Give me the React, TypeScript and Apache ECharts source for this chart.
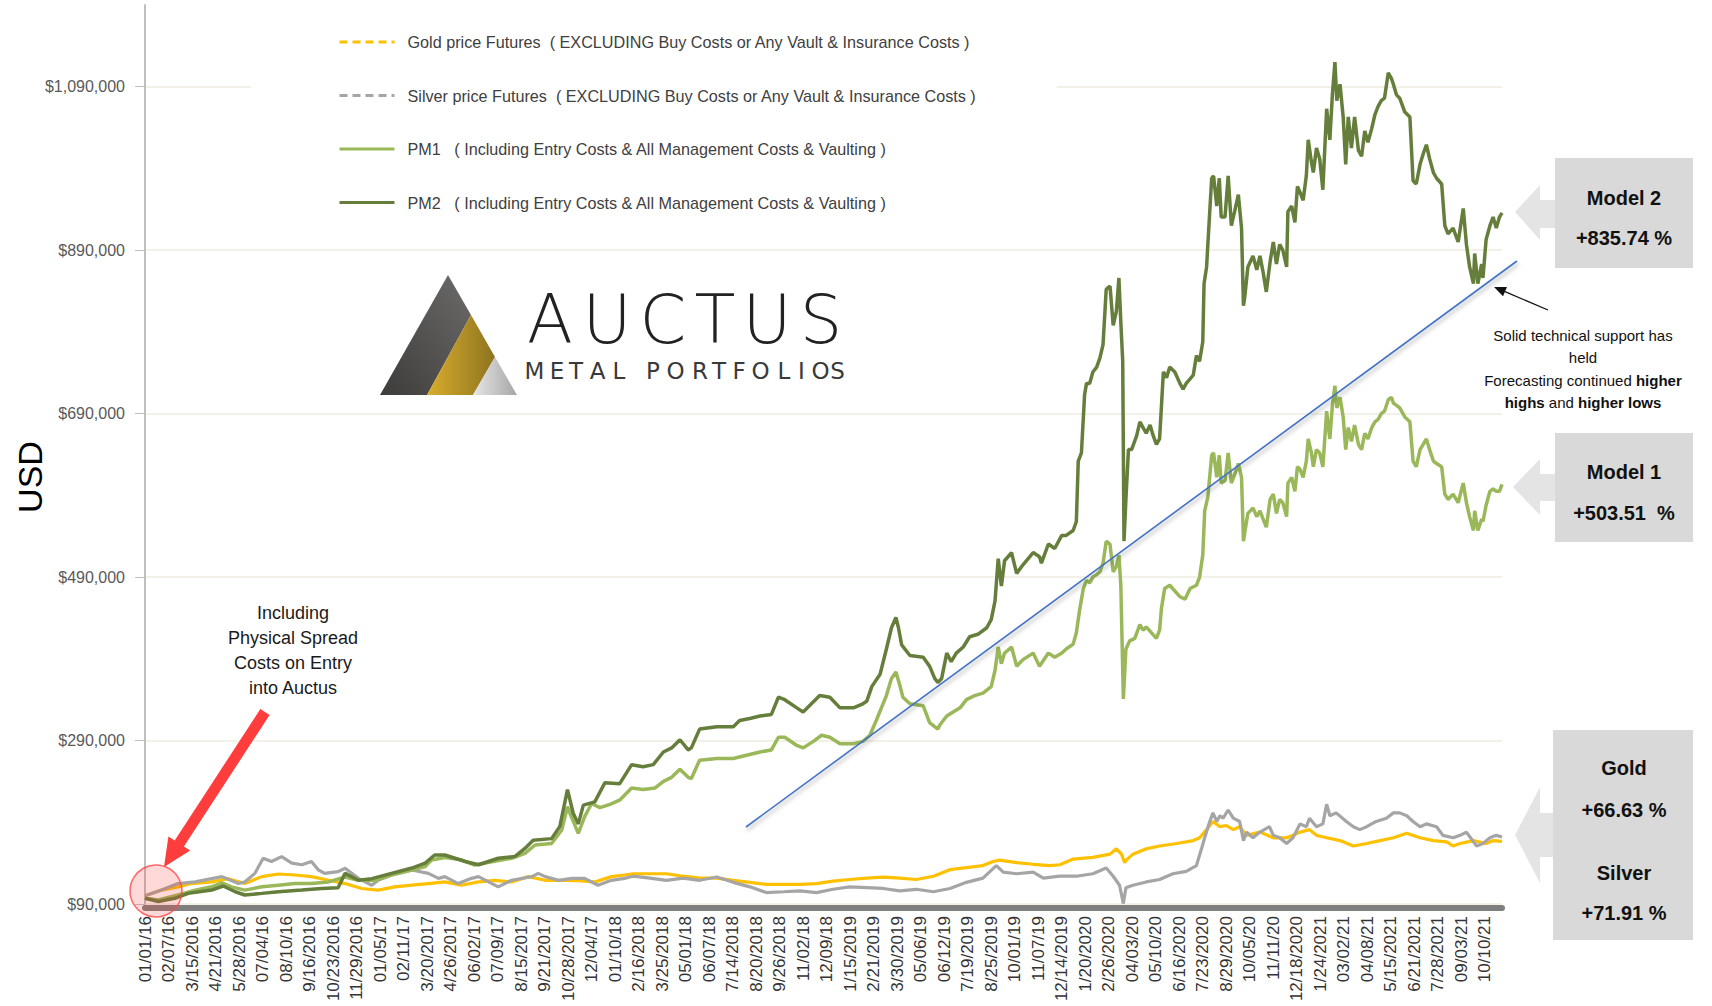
import { useEffect, useRef } from 'react';
import * as echarts from 'echarts';

const FONT = '"Liberation Sans", Arial, sans-serif';

// ---------- DATA ----------
const START_UTC = Date.UTC(2016, 0, 1);
const DAY_COUNT = 2137; // daily categories 2016-01-01 .. 2021-11-06
const LABEL_STEP = 37;

const xTickLabels = ['01/01/16','02/07/16','3/15/2016','4/21/2016','5/28/2016','07/04/16','08/10/16','9/16/2016','10/23/2016','11/29/2016','01/05/17','02/11/17','3/20/2017','4/26/2017','06/02/17','07/09/17','8/15/2017','9/21/2017','10/28/2017','12/04/17','01/10/18','2/16/2018','3/25/2018','05/01/18','06/07/18','7/14/2018','8/20/2018','9/26/2018','11/02/18','12/09/18','1/15/2019','2/21/2019','3/30/2019','05/06/19','06/12/19','7/19/2019','8/25/2019','10/01/19','11/07/19','12/14/2019','1/20/2020','2/26/2020','04/03/20','05/10/20','6/16/2020','7/23/2020','8/29/2020','10/05/20','11/11/20','12/18/2020','1/24/2021','03/02/21','04/08/21','5/15/2021','6/21/2021','7/28/2021','09/03/21','10/10/21'];

const yTickValues = [90000, 290000, 490000, 690000, 890000, 1090000];

const GOLD_NAME = 'Gold price Futures  ( EXCLUDING Buy Costs or Any Vault & Insurance Costs )';
const SILVER_NAME = 'Silver price Futures  ( EXCLUDING Buy Costs or Any Vault & Insurance Costs )';
const PM1_NAME = 'PM1   ( Including Entry Costs & All Management Costs & Vaulting )';
const PM2_NAME = 'PM2   ( Including Entry Costs & All Management Costs & Vaulting )';

// [day index since 01/01/16, USD]
const goldData = [[0,100000],[26,107000],[52,111000],[73,115000],[105,117000],[131,121000],[157,115000],[184,123500],[210,126700],[236,125500],[262,123500],[289,119000],[315,115000],[341,109000],[367,107000],[393,111000],[420,113000],[446,115000],[472,117000],[498,113000],[525,117000],[551,119000],[577,117000],[603,123500],[630,119000],[656,119000],[682,118500],[708,117000],[734,123500],[755,125500],[768,127000],[821,127000],[847,124000],[873,121600],[900,121600],[926,119000],[952,116500],[978,114000],[1005,114000],[1031,114000],[1057,115000],[1083,118000],[1109,120000],[1136,121600],[1162,123000],[1188,121600],[1214,120000],[1241,124000],[1267,132000],[1293,134500],[1319,137000],[1335,142000],[1345,143700],[1372,140700],[1398,138600],[1424,137000],[1440,138000],[1461,145000],[1492,147000],[1519,151000],[1529,157500],[1537,151000],[1542,140500],[1545,144000],[1555,151000],[1576,157500],[1597,161000],[1624,164000],[1650,167600],[1660,171000],[1671,181000],[1681,191000],[1692,184600],[1702,186000],[1713,181000],[1723,184600],[1734,174000],[1755,178000],[1776,171000],[1797,171000],[1807,174000],[1818,178000],[1833,181000],[1844,174000],[1860,171000],[1881,167600],[1902,161000],[1923,164000],[1944,167600],[1965,171000],[1986,176500],[2007,171000],[2028,167600],[2049,166000],[2059,161000],[2070,164000],[2091,167600],[2111,164000],[2122,167600],[2136,166630]];

const silverData = [[0,100000],[26,107000],[52,115000],[79,117000],[121,123500],[147,115000],[157,117000],[173,127500],[186,146000],[199,142000],[215,148000],[231,140000],[247,138000],[262,142000],[273,131600],[283,127500],[304,129600],[315,133700],[336,121400],[357,113000],[367,119000],[388,125500],[420,131600],[446,127500],[462,121400],[472,123500],[493,115000],[514,121400],[525,123500],[556,111000],[577,119000],[609,123500],[619,127500],[630,123500],[651,119000],[672,121400],[692,121400],[713,113000],[734,119000],[755,121400],[768,124000],[795,121600],[821,119000],[847,121600],[873,119000],[900,123000],[926,116500],[952,111000],[978,104000],[1005,105000],[1031,106000],[1057,104000],[1083,108000],[1109,111000],[1136,110000],[1162,109000],[1188,106000],[1214,108000],[1241,105000],[1267,109000],[1293,116500],[1319,121600],[1340,137000],[1351,129000],[1372,127000],[1398,129000],[1414,121600],[1440,124000],[1466,124000],[1492,127000],[1513,134000],[1524,124000],[1534,113000],[1540,90500],[1544,110000],[1555,113000],[1576,117000],[1597,120000],[1618,127000],[1639,130000],[1655,137000],[1663,157500],[1668,171000],[1676,191000],[1681,201500],[1687,191000],[1692,198000],[1697,195000],[1705,205000],[1713,195000],[1723,191000],[1729,167600],[1734,178000],[1744,171000],[1755,178000],[1770,184600],[1776,174000],[1786,171000],[1797,164000],[1807,171000],[1818,188000],[1828,184600],[1833,195000],[1844,184600],[1854,188000],[1860,212000],[1865,198000],[1875,201500],[1891,191000],[1902,184600],[1912,181000],[1923,184600],[1938,191000],[1954,195000],[1965,201500],[1975,201500],[1986,198000],[1996,191000],[2007,184600],[2017,188000],[2033,184600],[2043,174000],[2059,171000],[2070,174000],[2080,178000],[2096,161000],[2106,164000],[2117,171000],[2127,174000],[2136,171910]];

const pm1Data = [[0,97000],[21,95000],[52,101000],[79,107000],[105,111000],[121,116000],[136,111000],[157,107000],[184,111000],[210,113000],[236,115000],[262,115000],[289,117000],[315,123000],[336,119000],[362,119000],[388,125500],[420,131600],[441,135700],[451,143900],[472,147000],[498,144000],[519,137700],[546,141800],[577,145900],[598,152000],[614,162200],[640,164000],[656,180600],[665,209000],[671,197000],[682,176500],[692,197000],[703,213000],[716,208000],[732,212000],[747,217000],[766,232000],[784,230000],[803,232000],[816,240000],[829,245000],[842,255000],[855,245000],[860,243500],[873,266000],[900,268000],[926,268000],[942,271000],[968,276000],[986,278500],[997,294000],[1007,294000],[1026,284000],[1036,281000],[1052,289000],[1065,296500],[1078,294000],[1094,286000],[1115,286000],[1130,289000],[1141,296500],[1151,314500],[1167,345000],[1175,366000],[1182,374000],[1188,358000],[1193,343000],[1204,335000],[1225,332500],[1235,312000],[1243,307000],[1248,304000],[1251,309000],[1262,320000],[1272,325000],[1283,330000],[1293,340000],[1306,345000],[1319,348000],[1332,356000],[1338,376000],[1343,404500],[1348,384000],[1353,397000],[1364,404500],[1372,381000],[1382,389000],[1398,397000],[1408,381000],[1422,397000],[1432,392000],[1443,397000],[1450,402000],[1461,408000],[1466,422000],[1471,449000],[1477,476000],[1482,486000],[1487,483000],[1492,490000],[1498,493000],[1503,496500],[1508,507000],[1513,534000],[1519,530000],[1524,496500],[1529,503000],[1533,517000],[1536,480000],[1540,341000],[1544,402000],[1550,412000],[1558,415000],[1566,432000],[1571,425000],[1576,429000],[1584,422000],[1592,415000],[1597,425000],[1600,452000],[1605,476000],[1613,480000],[1621,473000],[1629,466000],[1637,463000],[1645,476000],[1655,480000],[1660,490000],[1665,517000],[1668,571000],[1673,588000],[1679,639000],[1682,642000],[1687,612000],[1691,639000],[1694,605000],[1700,608000],[1705,642000],[1710,605000],[1715,615000],[1721,629000],[1726,612000],[1729,534000],[1731,544000],[1736,568000],[1744,574500],[1750,564000],[1755,571000],[1760,561000],[1765,551000],[1771,585000],[1776,591500],[1781,568000],[1786,585000],[1791,581000],[1797,564000],[1799,605000],[1805,612000],[1810,595000],[1814,625000],[1818,622000],[1823,612000],[1828,632000],[1831,659000],[1836,642000],[1839,625000],[1844,646000],[1849,642000],[1854,625000],[1860,693000],[1865,659000],[1869,700000],[1873,724000],[1876,697000],[1881,710000],[1886,686000],[1890,646000],[1894,673000],[1899,656000],[1904,676000],[1910,652500],[1915,646000],[1920,666000],[1925,659000],[1931,673000],[1936,680000],[1941,683000],[1946,690000],[1951,693000],[1957,707000],[1962,710000],[1965,703000],[1970,700000],[1975,697000],[1983,686000],[1991,680000],[1996,632000],[2001,625000],[2007,646000],[2012,652500],[2017,659000],[2022,646000],[2028,632000],[2033,629000],[2041,625000],[2046,591500],[2051,585000],[2059,591500],[2067,581000],[2075,605000],[2080,581000],[2085,564000],[2091,547000],[2093,571000],[2098,547000],[2104,561000],[2106,558000],[2111,578000],[2117,595000],[2122,598000],[2127,595000],[2132,595000],[2136,603510]];

const pm2Data = [[0,97000],[21,93000],[47,97000],[68,103000],[105,107000],[123,112000],[142,105000],[157,101000],[184,103000],[210,105000],[247,107000],[278,109000],[304,110000],[315,127500],[336,119000],[357,121000],[388,127500],[420,134000],[441,140000],[456,150000],[472,150000],[504,142000],[525,138000],[556,146000],[582,148000],[598,158000],[611,168000],[640,170000],[653,185000],[665,230000],[674,201000],[682,188000],[690,211000],[708,215000],[724,238500],[747,237000],[766,260500],[784,258000],[800,260500],[816,276000],[829,281000],[842,291000],[855,278500],[860,281000],[873,304000],[900,307000],[926,307000],[936,314500],[952,317000],[968,320000],[986,322000],[997,343000],[1007,340000],[1026,330000],[1036,325000],[1049,335000],[1062,345000],[1078,343000],[1094,330000],[1115,330000],[1130,335000],[1136,338000],[1144,356000],[1157,371000],[1167,402000],[1175,428000],[1182,440500],[1186,428000],[1191,407000],[1204,394000],[1225,392000],[1235,381000],[1243,366000],[1248,361000],[1254,366000],[1262,397000],[1269,386500],[1277,397000],[1288,404500],[1298,417000],[1311,420000],[1325,428000],[1332,438000],[1338,461000],[1343,512500],[1348,479000],[1353,510000],[1364,520000],[1372,494500],[1382,505000],[1398,520000],[1408,515000],[1411,507000],[1422,530500],[1432,525000],[1443,541000],[1450,541000],[1461,547000],[1466,558000],[1469,632000],[1474,642000],[1479,713500],[1482,727000],[1487,727000],[1492,741000],[1498,747000],[1503,758000],[1508,774500],[1513,842000],[1519,846000],[1524,798000],[1529,815000],[1533,856000],[1536,802000],[1539,754000],[1541,534000],[1544,585000],[1548,646000],[1553,646000],[1561,663000],[1566,680000],[1571,673000],[1576,666000],[1582,676000],[1587,663000],[1592,652500],[1597,659000],[1600,700000],[1603,741000],[1608,734000],[1613,747000],[1621,741000],[1629,727000],[1634,720000],[1639,727000],[1650,737000],[1655,761000],[1660,754000],[1665,778000],[1667,849000],[1671,869500],[1673,897000],[1679,978000],[1682,981000],[1687,944000],[1691,978000],[1694,930500],[1700,930500],[1705,981000],[1710,920000],[1715,937000],[1721,958000],[1726,917000],[1729,822000],[1731,832000],[1736,869500],[1744,883000],[1750,866000],[1755,883000],[1760,863000],[1765,839000],[1771,876000],[1776,900000],[1781,873000],[1786,897000],[1791,890000],[1797,869500],[1799,937000],[1805,944000],[1810,924000],[1814,968000],[1818,961000],[1823,951000],[1828,981000],[1831,1025000],[1836,998000],[1839,985000],[1844,1015000],[1849,1002000],[1854,964000],[1860,1063000],[1865,1025000],[1869,1080000],[1873,1120000],[1876,1073000],[1881,1093000],[1886,1053000],[1890,995000],[1894,1053000],[1899,1015000],[1904,1053000],[1910,1012000],[1915,1005000],[1920,1036000],[1925,1022000],[1931,1039000],[1936,1056000],[1941,1066000],[1946,1073000],[1951,1076000],[1957,1107000],[1962,1100000],[1965,1093000],[1970,1080000],[1975,1076000],[1983,1059000],[1991,1053000],[1996,975000],[2001,971000],[2007,995000],[2012,1008000],[2017,1019000],[2022,1002000],[2028,985000],[2033,978000],[2041,971000],[2046,920000],[2051,910000],[2059,917000],[2067,900000],[2075,941000],[2080,897000],[2085,869500],[2091,849000],[2093,886000],[2098,849000],[2104,873000],[2106,856000],[2111,903000],[2117,920000],[2122,930500],[2127,917000],[2132,930500],[2136,935740]];

// ---------- STYLE ----------
const GOLD_COLOR = '#FFC000';
const SILVER_COLOR = '#A5A5A5';
const PM1_COLOR = '#9AB85A';
const PM2_COLOR = '#667E3B';

const titleLetters = ['A', 'U', 'C', 'T', 'U', 'S'];
const titleLetterX = [550, 607, 663, 715, 767, 821];
const subLetters = ['M', 'E', 'T', 'A', 'L', 'P', 'O', 'R', 'T', 'F', 'O', 'L', 'I', 'O', 'S'];
const subLetterX = [534.5, 557, 576, 597.5, 619, 653, 675.5, 700, 719, 739, 760.5, 784, 801.5, 820.5, 837.5];

function pad2(n: number) { return n < 10 ? '0' + n : '' + n; }
function buildCategories() {
  const out: string[] = [];
  for (let i = 0; i < DAY_COUNT; i++) {
    const d = new Date(START_UTC + i * 86400000);
    out.push(pad2(d.getUTCMonth() + 1) + '/' + pad2(d.getUTCDate()) + '/' + d.getUTCFullYear());
  }
  return out;
}

function fmtUsd(v: number) {
  return '$' + String(Math.round(v)).replace(/\B(?=(\d{3})+(?!\d))/g, ',');
}

function calloutArrow(tipX: number, tipY: number, headTop: number, headBottom: number, shaftTop: number, shaftBottom: number, neckX: number, boxX: number) {
  return {
    type: 'polygon',
    z: 50,
    shape: {
      points: [
        [boxX, shaftTop], [neckX, shaftTop], [neckX, headTop], [tipX, tipY],
        [neckX, headBottom], [neckX, shaftBottom], [boxX, shaftBottom],
      ],
    },
    style: { fill: '#E4E4E4' },
  };
}

function boxText(x: number, y: number, text: string) {
  return {
    type: 'text', z: 60, x, y,
    style: { text, fontFamily: FONT, fontSize: 20, fontWeight: 'bold', fill: '#111', align: 'center', verticalAlign: 'middle' },
  };
}

function buildGraphics() {
  const g: any[] = [];
  // USD axis title
  g.push({ type: 'text', x: 30, y: 477, rotation: Math.PI / 2, style: { text: 'USD', fontFamily: FONT, fontSize: 34, fill: '#000', align: 'center', verticalAlign: 'middle' } });

  // Logo triangle
  g.push({ type: 'polygon', z: 10, shape: { points: [[448, 275], [471, 315], [427, 395], [380, 395]] },
    style: { fill: new echarts.graphic.LinearGradient(0, 1, 1, 0, [{ offset: 0, color: '#3E3C3B' }, { offset: 1, color: '#6D6B6A' }]) } });
  g.push({ type: 'polygon', z: 10, shape: { points: [[471, 315], [495, 357], [473, 395], [427, 395]] },
    style: { fill: new echarts.graphic.LinearGradient(0, 0, 1, 0, [{ offset: 0, color: '#D9AD2C' }, { offset: 1, color: '#8E7420' }]) } });
  g.push({ type: 'polygon', z: 10, shape: { points: [[495, 357], [517, 395], [473, 395]] },
    style: { fill: new echarts.graphic.LinearGradient(0, 0, 1, 0, [{ offset: 0, color: '#E6E6E6' }, { offset: 1, color: '#A6A6A6' }]) } });
  titleLetters.forEach((ch, i) => {
    g.push({ type: 'text', z: 10, x: titleLetterX[i], y: 320, style: { text: ch, fontFamily: '"DejaVu Sans", sans-serif', fontWeight: 200, fontSize: 67, fill: '#222', align: 'center', verticalAlign: 'middle' } });
  });
  subLetters.forEach((ch, i) => {
    g.push({ type: 'text', z: 10, x: subLetterX[i], y: 370.5, style: { text: ch, fontFamily: '"DejaVu Sans", sans-serif', fontSize: 23, fill: '#3a3a3a', align: 'center', verticalAlign: 'middle' } });
  });

  // Red note + arrow + circle
  g.push({ type: 'text', z: 60, x: 293, y: 650, style: { text: 'Including\nPhysical Spread\nCosts on Entry\ninto Auctus', fontFamily: FONT, fontSize: 18, lineHeight: 25, fill: '#1a1a1a', align: 'center', verticalAlign: 'middle' } });
  g.push({ type: 'polygon', z: 60, shape: { points: [[260.4, 709], [269.6, 715], [183.9, 846.5], [190.2, 850.6], [164, 867], [168.4, 836.4], [174.7, 840.5]] }, style: { fill: '#FF3D3D' } });
  g.push({ type: 'circle', z: 70, shape: { cx: 156, cy: 891, r: 26 }, style: { fill: 'rgba(255,60,60,0.2)', stroke: 'rgba(255,70,70,0.8)', lineWidth: 1.5 } });

  // Blue support / trend lines
  const blueShadow = { shadowBlur: 4, shadowColor: 'rgba(0,0,0,0.35)', shadowOffsetX: 1, shadowOffsetY: 3 };
  g.push({ type: 'line', z: 70, shape: { x1: 746, y1: 827, x2: 1517, y2: 261 }, style: { stroke: '#4472C4', lineWidth: 1.6, ...blueShadow } });
  g.push({ type: 'line', z: 70, shape: { x1: 1240, y1: 311.5, x2: 1447, y2: 311.5 }, style: { stroke: '#4472C4', lineWidth: 2.5, ...blueShadow } });

  // Black pointer arrow + note
  g.push({ type: 'line', z: 70, shape: { x1: 1548, y1: 310, x2: 1505, y2: 291.7 }, style: { stroke: '#111', lineWidth: 1.3 } });
  g.push({ type: 'polygon', z: 70, shape: { points: [[1494, 287], [1507, 287.1], [1503, 296.3]] }, style: { fill: '#111' } });
  g.push({ type: 'text', z: 60, x: 1583, y: 369, style: {
    text: 'Solid technical support has\nheld\nForecasting continued {b|higher}\n{b|highs} and {b|higher lows}',
    fontFamily: FONT, fontSize: 15, lineHeight: 22.6, fill: '#111', align: 'center', verticalAlign: 'middle',
    rich: { b: { fontFamily: FONT, fontSize: 15, fontWeight: 'bold', fill: '#111', lineHeight: 22.6 } },
  } });

  // Right callout boxes
  g.push({ type: 'rect', z: 50, shape: { x: 1555, y: 158, width: 138, height: 110 }, style: { fill: '#D9D9D9' } });
  g.push(calloutArrow(1515, 212, 185, 240, 200, 228, 1540, 1555));
  g.push(boxText(1624, 198, 'Model 2'));
  g.push(boxText(1624, 238, '+835.74 %'));

  g.push({ type: 'rect', z: 50, shape: { x: 1555, y: 433, width: 138, height: 109 }, style: { fill: '#D9D9D9' } });
  g.push(calloutArrow(1513, 487, 459, 515, 474, 501, 1540, 1555));
  g.push(boxText(1624, 472, 'Model 1'));
  g.push(boxText(1624, 513, '+503.51  %'));

  g.push({ type: 'rect', z: 50, shape: { x: 1553, y: 730, width: 140, height: 210 }, style: { fill: '#D9D9D9' } });
  g.push(calloutArrow(1515, 835, 787, 883, 813, 857, 1540, 1553));
  g.push(boxText(1624, 768, 'Gold'));
  g.push(boxText(1624, 810, '+66.63 %'));
  g.push(boxText(1624, 873, 'Silver'));
  g.push(boxText(1624, 913, '+71.91 %'));
  return g;
}

export default function App() {
  const ref = useRef<HTMLDivElement>(null);
  useEffect(() => {
    document.body.style.margin = '0';
    const chart = echarts.init(ref.current!, null, { renderer: 'svg' });
    const categories = buildCategories();
    const lineSeries = (name: string, data: number[][], color: string, width: number) => ({
      name, type: 'line', data, symbol: 'none', showSymbol: false, connectNulls: true,
      lineStyle: { color, width }, itemStyle: { color }, emphasis: { disabled: true },
    });
    chart.setOption({
      animation: false,
      backgroundColor: '#ffffff',
      grid: { left: 145, right: 210, top: 5, bottom: 102 },
      legend: {
        orient: 'vertical', left: 251, top: 10,
        padding: [24, 80, 14, 87],
        backgroundColor: '#ffffff',
        itemWidth: 55, itemHeight: 14, itemGap: 37.5,
        itemStyle: { color: 'rgba(0,0,0,0)', borderColor: 'rgba(0,0,0,0)', borderWidth: 0, opacity: 0 },
        textStyle: { fontFamily: FONT, fontSize: 16.2, color: '#404040', padding: [0, 0, 0, 8] },
        data: [
          { name: GOLD_NAME, lineStyle: { type: [8, 5], width: 3 } },
          { name: SILVER_NAME, lineStyle: { type: [8, 5], width: 3 } },
          { name: PM1_NAME, lineStyle: { width: 3 } },
          { name: PM2_NAME, lineStyle: { width: 3 } },
        ],
      },
      xAxis: {
        type: 'category', data: categories, boundaryGap: false, offset: 4,
        axisLine: { onZero: false, lineStyle: { color: '#7F7F7F', width: 6 } },
        axisTick: { show: false },
        splitLine: { show: false },
        axisLabel: {
          interval: LABEL_STEP - 1, rotate: 90, margin: 8,
          fontFamily: FONT, fontSize: 17, color: '#333',
          formatter: (_v: string, idx: number) => (idx % LABEL_STEP === 0 ? xTickLabels[idx / LABEL_STEP] || '' : ''),
        },
      },
      yAxis: {
        type: 'value', min: 90000, max: 1190000,
        axisLine: { show: true, lineStyle: { color: '#BFBFBF', width: 2 } },
        axisTick: { show: true, length: 10, lineStyle: { color: '#BFBFBF' }, customValues: yTickValues },
        axisLabel: { customValues: yTickValues, margin: 20, fontFamily: FONT, fontSize: 16, color: '#595959', formatter: (v: number) => fmtUsd(v) },
        splitLine: { show: true, lineStyle: { color: '#EFEBE1', width: 1.5 } },
      },
      series: [
        lineSeries(GOLD_NAME, goldData, GOLD_COLOR, 3.2),
        lineSeries(SILVER_NAME, silverData, SILVER_COLOR, 3.2),
        lineSeries(PM1_NAME, pm1Data, PM1_COLOR, 3.5),
        lineSeries(PM2_NAME, pm2Data, PM2_COLOR, 3.5),
      ],
      graphic: buildGraphics(),
    });
    return () => chart.dispose();
  }, []);
  return <div ref={ref} style={{ width: 1712, height: 1006 }} />;
}
